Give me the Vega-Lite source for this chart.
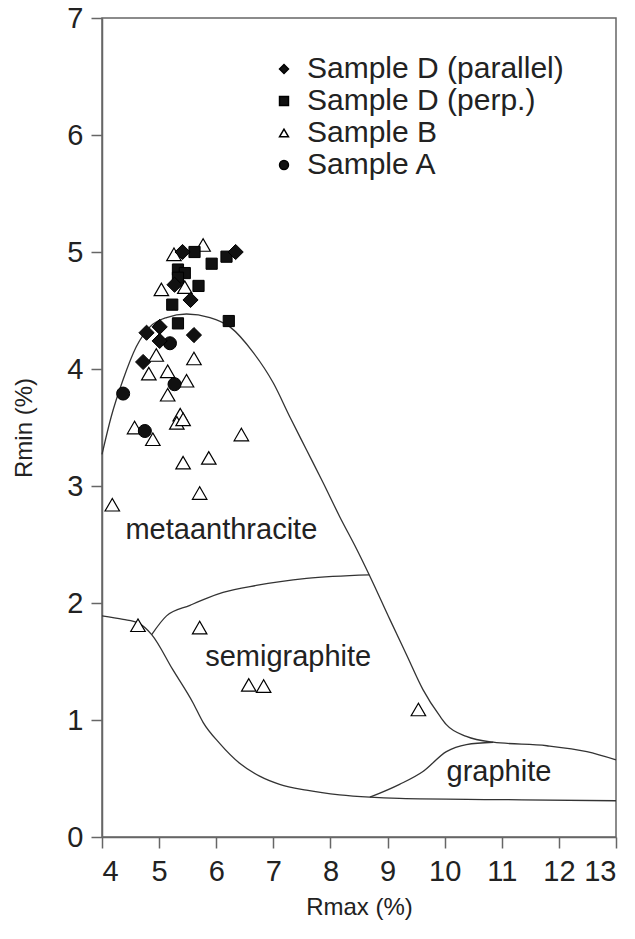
{
  "$schema": "https://vega.github.io/schema/vega-lite/v6.json",
  "width": 514,
  "height": 819,
  "autosize": "none",
  "padding": {"left": 102, "top": 18, "right": 19, "bottom": 102},
  "background": "white",
  "config": {
    "font": "Liberation Sans",
    "view": {"stroke": "#666", "strokeWidth": 1.5},
    "axis": {
      "grid": false,
      "domainColor": "#666",
      "domainWidth": 1.5,
      "tickColor": "#666",
      "tickWidth": 1.5,
      "tickSize": 11,
      "labelFont": "Liberation Sans",
      "labelFontSize": 29,
      "labelColor": "#222",
      "titleFont": "Liberation Sans",
      "titleFontSize": 24,
      "titleFontWeight": "normal",
      "titleColor": "#222"
    },
    "legend": {
      "orient": "none",
      "legendX": 167,
      "legendY": 36,
      "labelFontSize": 30,
      "labelFont": "Liberation Sans",
      "labelColor": "#222",
      "labelLimit": 0,
      "rowPadding": 2,
      "labelOffset": 8,
      "padding": 0,
      "symbolSize": 80
    }
  },
  "datasets": {
    "curves": [
      {"curve": "A", "ord": 1, "x": 4.0, "y": 3.27},
      {"curve": "A", "ord": 2, "x": 4.16, "y": 3.59},
      {"curve": "A", "ord": 3, "x": 4.37, "y": 3.91},
      {"curve": "A", "ord": 4, "x": 4.6, "y": 4.19},
      {"curve": "A", "ord": 5, "x": 4.84, "y": 4.36},
      {"curve": "A", "ord": 6, "x": 5.13, "y": 4.44},
      {"curve": "A", "ord": 7, "x": 5.48, "y": 4.47},
      {"curve": "A", "ord": 8, "x": 5.89, "y": 4.44},
      {"curve": "A", "ord": 9, "x": 6.24, "y": 4.36},
      {"curve": "A", "ord": 10, "x": 6.65, "y": 4.14},
      {"curve": "A", "ord": 11, "x": 7.0, "y": 3.88},
      {"curve": "A", "ord": 12, "x": 7.29, "y": 3.59},
      {"curve": "A", "ord": 13, "x": 7.58, "y": 3.31},
      {"curve": "A", "ord": 14, "x": 7.87, "y": 3.03},
      {"curve": "A", "ord": 15, "x": 8.16, "y": 2.74},
      {"curve": "A", "ord": 16, "x": 8.46, "y": 2.46},
      {"curve": "A", "ord": 17, "x": 8.68, "y": 2.24},
      {"curve": "A", "ord": 18, "x": 9.04, "y": 1.86},
      {"curve": "A", "ord": 19, "x": 9.33, "y": 1.56},
      {"curve": "A", "ord": 20, "x": 9.62, "y": 1.26},
      {"curve": "A", "ord": 21, "x": 9.92, "y": 1.03},
      {"curve": "A", "ord": 22, "x": 10.03, "y": 0.96},
      {"curve": "A", "ord": 23, "x": 10.38, "y": 0.86},
      {"curve": "A", "ord": 24, "x": 10.85, "y": 0.81},
      {"curve": "A", "ord": 25, "x": 11.79, "y": 0.78},
      {"curve": "A", "ord": 26, "x": 12.49, "y": 0.73},
      {"curve": "A", "ord": 27, "x": 13.0, "y": 0.66},
      {"curve": "B", "ord": 1, "x": 4.0, "y": 1.89},
      {"curve": "B", "ord": 2, "x": 4.37, "y": 1.86},
      {"curve": "B", "ord": 3, "x": 4.63, "y": 1.83},
      {"curve": "B", "ord": 4, "x": 4.87, "y": 1.73},
      {"curve": "B", "ord": 5, "x": 5.24, "y": 1.43},
      {"curve": "B", "ord": 6, "x": 5.59, "y": 1.15},
      {"curve": "B", "ord": 7, "x": 5.77, "y": 0.98},
      {"curve": "B", "ord": 8, "x": 6.06, "y": 0.8},
      {"curve": "B", "ord": 9, "x": 6.41, "y": 0.63},
      {"curve": "B", "ord": 10, "x": 6.76, "y": 0.52},
      {"curve": "B", "ord": 11, "x": 7.11, "y": 0.45},
      {"curve": "B", "ord": 12, "x": 7.58, "y": 0.4},
      {"curve": "B", "ord": 13, "x": 8.16, "y": 0.36},
      {"curve": "B", "ord": 14, "x": 8.69, "y": 0.34},
      {"curve": "B", "ord": 15, "x": 9.21, "y": 0.33},
      {"curve": "B", "ord": 16, "x": 10.91, "y": 0.32},
      {"curve": "B", "ord": 17, "x": 13.0, "y": 0.31},
      {"curve": "C", "ord": 1, "x": 4.87, "y": 1.73},
      {"curve": "C", "ord": 2, "x": 5.13, "y": 1.89},
      {"curve": "C", "ord": 3, "x": 5.54, "y": 1.98},
      {"curve": "C", "ord": 4, "x": 5.83, "y": 2.04},
      {"curve": "C", "ord": 5, "x": 6.12, "y": 2.09},
      {"curve": "C", "ord": 6, "x": 6.7, "y": 2.15},
      {"curve": "C", "ord": 7, "x": 7.58, "y": 2.21},
      {"curve": "C", "ord": 8, "x": 8.68, "y": 2.24},
      {"curve": "D", "ord": 1, "x": 8.69, "y": 0.34},
      {"curve": "D", "ord": 2, "x": 9.21, "y": 0.45},
      {"curve": "D", "ord": 3, "x": 9.62, "y": 0.56},
      {"curve": "D", "ord": 4, "x": 10.03, "y": 0.73},
      {"curve": "D", "ord": 5, "x": 10.38, "y": 0.79},
      {"curve": "D", "ord": 6, "x": 10.85, "y": 0.81}
    ],
    "labels": [
      {"label": "metaanthracite", "x": 6.09, "y": 2.55},
      {"label": "semigraphite", "x": 7.26, "y": 1.46},
      {"label": "graphite", "x": 10.95, "y": 0.48}
    ],
    "points": [
      {"series": "Sample D (parallel)", "rmax": 6.34, "rmin": 5.0},
      {"series": "Sample D (parallel)", "rmax": 5.41, "rmin": 5.0},
      {"series": "Sample D (parallel)", "rmax": 5.27, "rmin": 4.72},
      {"series": "Sample D (parallel)", "rmax": 5.55, "rmin": 4.59},
      {"series": "Sample D (parallel)", "rmax": 5.01, "rmin": 4.36},
      {"series": "Sample D (parallel)", "rmax": 4.78, "rmin": 4.31},
      {"series": "Sample D (parallel)", "rmax": 5.61, "rmin": 4.29},
      {"series": "Sample D (parallel)", "rmax": 5.01, "rmin": 4.24},
      {"series": "Sample D (parallel)", "rmax": 4.72, "rmin": 4.06},
      {"series": "Sample D (perp.)", "rmax": 6.18, "rmin": 4.96},
      {"series": "Sample D (perp.)", "rmax": 5.92, "rmin": 4.9},
      {"series": "Sample D (perp.)", "rmax": 5.62, "rmin": 5.0},
      {"series": "Sample D (perp.)", "rmax": 5.33, "rmin": 4.85},
      {"series": "Sample D (perp.)", "rmax": 5.45, "rmin": 4.82},
      {"series": "Sample D (perp.)", "rmax": 5.33, "rmin": 4.78},
      {"series": "Sample D (perp.)", "rmax": 5.69, "rmin": 4.71},
      {"series": "Sample D (perp.)", "rmax": 5.23, "rmin": 4.55},
      {"series": "Sample D (perp.)", "rmax": 5.33, "rmin": 4.39},
      {"series": "Sample D (perp.)", "rmax": 6.22, "rmin": 4.41},
      {"series": "Sample B", "rmax": 5.77, "rmin": 5.06},
      {"series": "Sample B", "rmax": 5.26, "rmin": 4.98},
      {"series": "Sample B", "rmax": 5.04, "rmin": 4.68},
      {"series": "Sample B", "rmax": 5.45, "rmin": 4.7},
      {"series": "Sample B", "rmax": 4.95, "rmin": 4.12},
      {"series": "Sample B", "rmax": 5.61, "rmin": 4.09},
      {"series": "Sample B", "rmax": 4.82, "rmin": 3.96},
      {"series": "Sample B", "rmax": 5.15, "rmin": 3.98},
      {"series": "Sample B", "rmax": 5.48, "rmin": 3.9},
      {"series": "Sample B", "rmax": 5.15, "rmin": 3.78},
      {"series": "Sample B", "rmax": 5.37, "rmin": 3.61},
      {"series": "Sample B", "rmax": 4.57, "rmin": 3.5},
      {"series": "Sample B", "rmax": 4.89, "rmin": 3.4},
      {"series": "Sample B", "rmax": 5.31, "rmin": 3.54},
      {"series": "Sample B", "rmax": 5.42, "rmin": 3.57},
      {"series": "Sample B", "rmax": 6.44, "rmin": 3.44},
      {"series": "Sample B", "rmax": 5.87, "rmin": 3.24},
      {"series": "Sample B", "rmax": 5.42, "rmin": 3.2},
      {"series": "Sample B", "rmax": 5.71, "rmin": 2.94},
      {"series": "Sample B", "rmax": 4.18, "rmin": 2.84},
      {"series": "Sample B", "rmax": 4.63, "rmin": 1.81},
      {"series": "Sample B", "rmax": 5.71, "rmin": 1.79},
      {"series": "Sample B", "rmax": 6.57, "rmin": 1.3},
      {"series": "Sample B", "rmax": 6.83, "rmin": 1.29},
      {"series": "Sample B", "rmax": 9.54, "rmin": 1.09},
      {"series": "Sample A", "rmax": 4.37, "rmin": 3.79},
      {"series": "Sample A", "rmax": 5.27, "rmin": 3.87},
      {"series": "Sample A", "rmax": 4.75, "rmin": 3.47},
      {"series": "Sample A", "rmax": 5.19, "rmin": 4.22}
    ]
  },
  "layer": [
    {
      "data": {"name": "curves"},
      "mark": {"type": "line", "color": "#333", "strokeWidth": 1.3, "interpolate": "monotone"},
      "encoding": {
        "x": {"field": "x", "type": "quantitative", "scale": {"domain": [4, 13], "nice": false, "zero": false},
              "axis": {"values": [4, 5, 6, 7, 8, 9, 10, 11, 12, 13], "format": "d", "title": "Rmax (%)", "labelPadding": 9, "titlePadding": 9}},
        "y": {"field": "y", "type": "quantitative", "scale": {"domain": [0, 7], "nice": false, "zero": false},
              "axis": {"values": [0, 1, 2, 3, 4, 5, 6, 7], "format": "d", "title": "Rmin (%)", "labelPadding": 8, "titlePadding": 30}},
        "detail": {"field": "curve"},
        "order": {"field": "ord", "type": "quantitative"}
      }
    },
    {
      "data": {"name": "labels"},
      "mark": {"type": "text", "font": "Liberation Sans", "fontSize": 29, "color": "#222", "align": "center", "baseline": "alphabetic"},
      "encoding": {
        "x": {"field": "x", "type": "quantitative"},
        "y": {"field": "y", "type": "quantitative"},
        "text": {"field": "label"}
      }
    },
    {
      "data": {"name": "points"},
      "encoding": {
        "x": {"field": "rmax", "type": "quantitative"},
        "y": {"field": "rmin", "type": "quantitative"},
        "shape": {"field": "series", "type": "nominal",
          "scale": {"domain": ["Sample D (parallel)", "Sample D (perp.)", "Sample B", "Sample A"], "range": ["diamond", "square", "triangle-up", "circle"]},
          "legend": {"title": null, "encode": {"symbols": {"update": {"stroke": {"value": "black"}, "strokeWidth": {"value": 1}, "size": {"value": 80}, "opacity": {"value": 1}}}}}},
        "fill": {"field": "series", "type": "nominal",
          "scale": {"domain": ["Sample D (parallel)", "Sample D (perp.)", "Sample B", "Sample A"], "range": ["#111", "#111", "white", "#111"]},
          "legend": {"title": null, "encode": {"symbols": {"update": {"stroke": {"value": "black"}, "strokeWidth": {"value": 1}, "size": {"value": 80}, "opacity": {"value": 1}}}}}}
      },
      "layer": [
        {"transform": [{"filter": "datum.series === 'Sample B'"}],
         "mark": {"type": "point", "filled": true, "stroke": "black", "strokeWidth": 1.2, "opacity": 1, "size": 210}},
        {"transform": [{"filter": "datum.series === 'Sample A'"}],
         "mark": {"type": "point", "filled": true, "stroke": "black", "strokeWidth": 1, "opacity": 1, "size": 170}},
        {"transform": [{"filter": "datum.series === 'Sample D (perp.)'"}],
         "mark": {"type": "point", "filled": true, "stroke": "black", "strokeWidth": 1, "opacity": 1, "size": 125}},
        {"transform": [{"filter": "datum.series === 'Sample D (parallel)'"}],
         "mark": {"type": "point", "filled": true, "stroke": "black", "strokeWidth": 1, "opacity": 1, "size": 230}}
      ]
    }
  ]
}
